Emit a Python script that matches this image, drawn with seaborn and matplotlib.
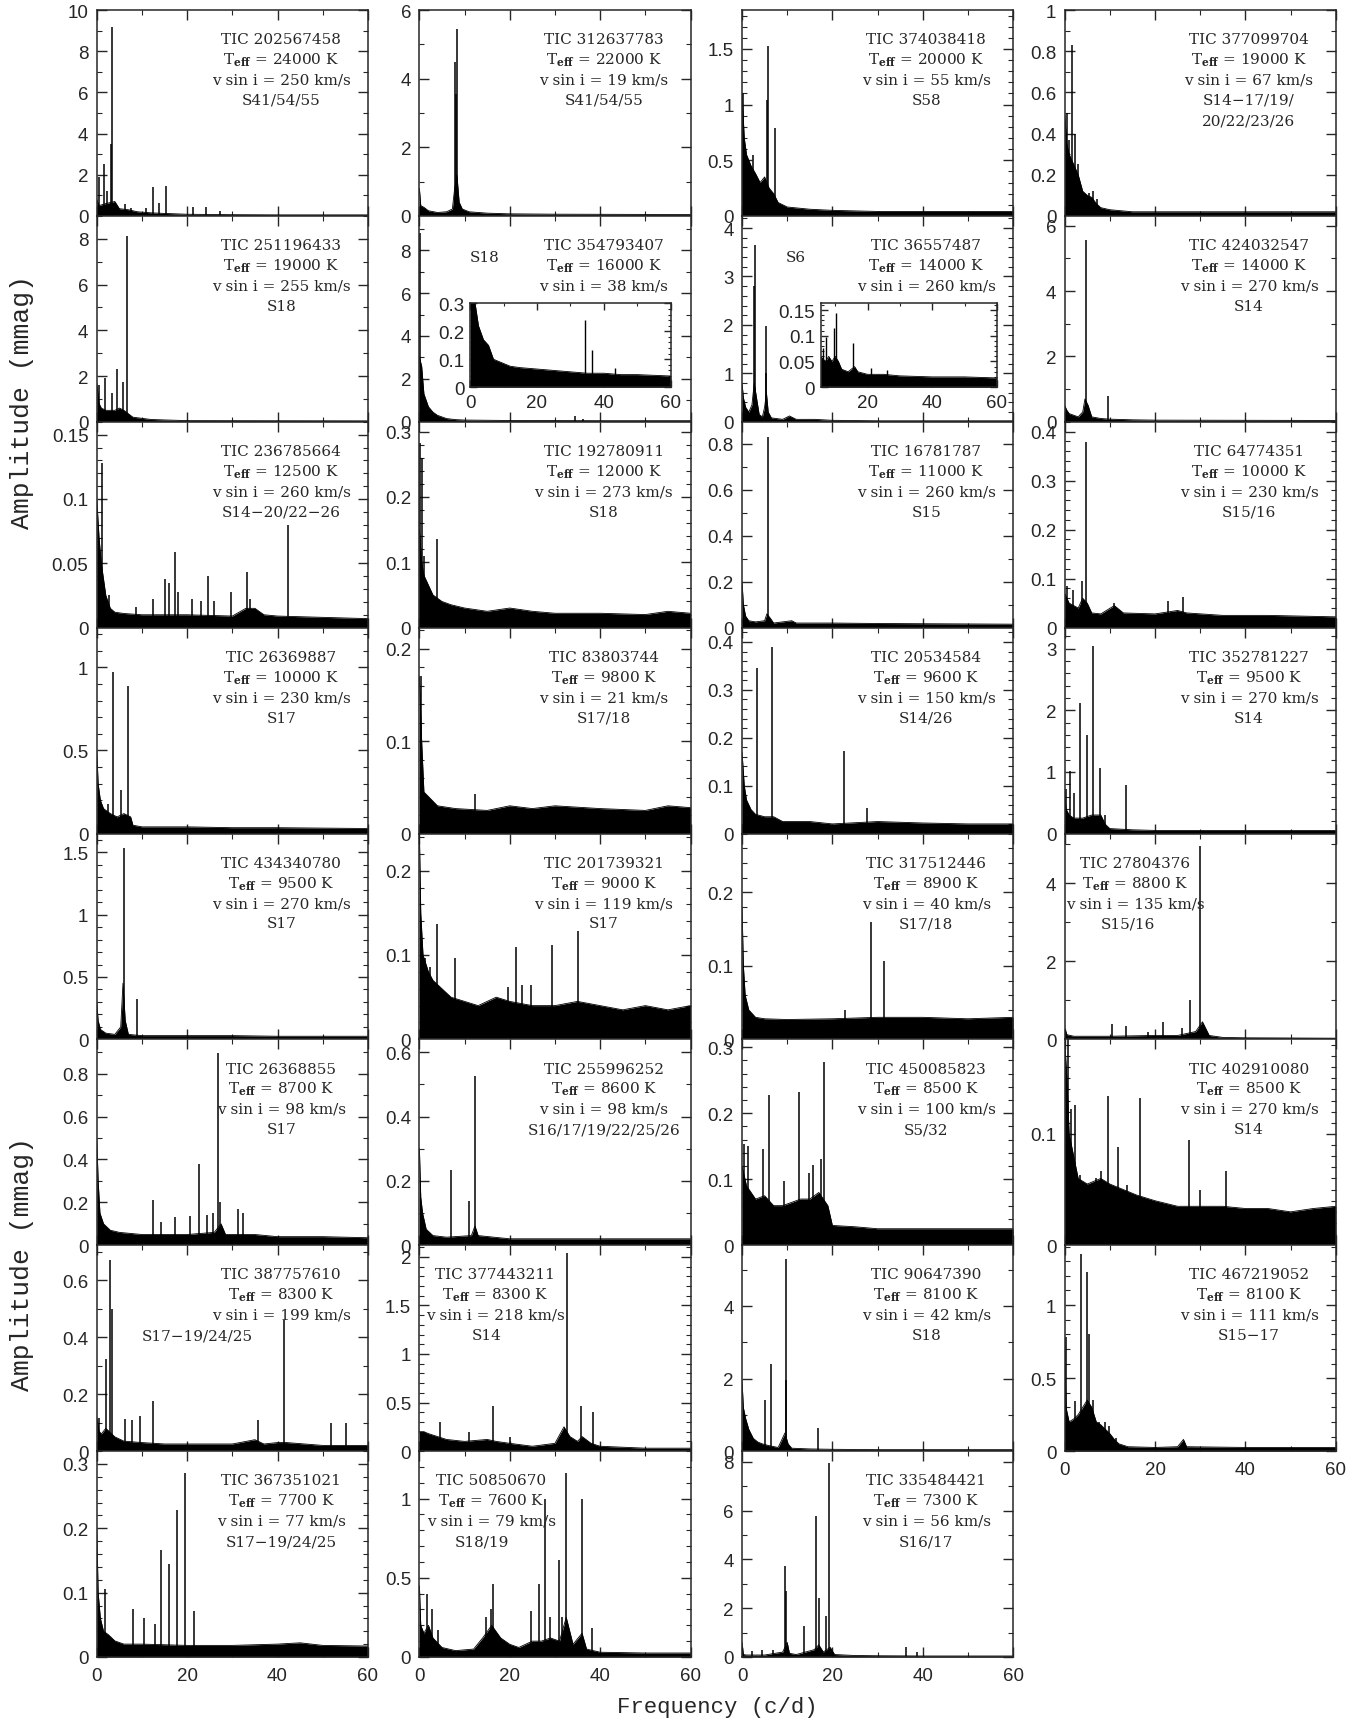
import matplotlib
matplotlib.use("Agg")
import matplotlib.pyplot as plt
from matplotlib.ticker import MultipleLocator, FuncFormatter
import seaborn as sns

# ---- star parameters (one entry per panel, row by row) ----
tic = ["202567458", "312637783", "374038418", "377099704",
       "251196433", "354793407", "36557487", "424032547",
       "236785664", "192780911", "16781787", "64774351",
       "26369887", "83803744", "20534584", "352781227",
       "434340780", "201739321", "317512446", "27804376",
       "26368855", "255996252", "450085823", "402910080",
       "387757610", "377443211", "90647390", "467219052",
       "367351021", "50850670", "335484421"]
teff = [24000, 22000, 20000, 19000, 19000, 16000, 14000, 14000,
        12500, 12000, 11000, 10000, 10000, 9800, 9600, 9500,
        9500, 9000, 8900, 8800, 8700, 8600, 8500, 8500,
        8300, 8300, 8100, 8100, 7700, 7600, 7300]
vsini = [250, 19, 55, 67, 255, 38, 260, 270, 260, 273, 260, 230, 230, 21, 150, 270,
         270, 119, 40, 135, 98, 98, 100, 270, 199, 218, 42, 111, 77, 79, 56]
sectors = ["S41/54/55", "S41/54/55", "S58", "S14\u221217/19/\n20/22/23/26",
           "S18", "S18", "S6", "S14",
           "S14\u221220/22\u221226", "S18", "S15", "S15/16",
           "S17", "S17/18", "S14/26", "S14",
           "S17", "S17", "S17/18", "S15/16",
           "S17", "S16/17/19/22/25/26", "S5/32", "S14",
           "S17\u221219/24/25", "S14", "S18", "S15\u221217",
           "S17\u221219/24/25", "S18/19", "S16/17"]

# y-axis top (mmag) and tick steps per panel
ytop = [10, 6, 1.85, 1.0, 9.0, 9.6, 4.25, 6.3,
        0.16, 0.315, 0.895, 0.42, 1.24, 0.223, 0.43, 3.34,
        1.65, 0.244, 0.28, 5.27, 0.96, 0.64, 0.312, 0.185,
        0.723, 2.12, 5.68, 1.41, 0.32, 1.30, 8.44]
ymajor = [2, 2, 0.5, 0.2, 2, 2, 1, 2, 0.05, 0.1, 0.2, 0.1, 0.5, 0.1, 0.1, 1,
          0.5, 0.1, 0.1, 2, 0.2, 0.2, 0.1, 0.1, 0.2, 0.5, 2, 0.5, 0.1, 0.5, 2]
yminor = [1, 1, 0.1, 0.1, 1, 1, 0.2, 1, 0.01, 0.02, 0.1, 0.02, 0.1, 0.02, 0.02, 0.2,
          0.1, 0.02, 0.02, 1, 0.1, 0.1, 0.02, 0.01, 0.1, 0.1, 1, 0.1, 0.02, 0.1, 1]

# ---- significant peaks: frequency (c/d) and amplitude (mmag) ----
peak_f = [
    [0.6, 1.7, 2.3, 3.1, 3.46, 6.3, 7.5, 10.8, 12.5, 13.7, 15.4, 21.2, 24.2, 27.3],
    [7.8, 8.1, 8.3],
    [0.2, 2.5, 5.5, 5.7, 7.3],
    [0.5, 0.9, 1.7, 2.3, 3.0, 5.5, 6.3, 7.2],
    [0.6, 1.9, 3.3, 4.4, 5.9, 6.7],
    [0.15, 34.5, 36.3],
    [2.6, 2.8, 5.2, 5.4],
    [4.8, 9.5],
    [1.15, 2.7, 8.6, 12.5, 15, 16, 17.3, 17.9, 21, 23, 24.6, 26, 29.6, 33.3, 34, 42.3],
    [0.2, 0.6, 1.0, 3.85],
    [5.8],
    [0.6, 1.9, 3.9, 4.8, 11, 22.8, 26.2],
    [2.5, 3.5, 5.4, 6.9],
    [0.4, 12.3],
    [3.3, 6.6, 22.6, 27.6],
    [0.4, 1.2, 2.1, 3.5, 5.0, 6.2, 7.9, 9, 13.5],
    [6.0, 9.0],
    [1.3, 2.3, 3.85, 7.9, 19.5, 21.3, 22.6, 24.8, 29.4, 35.2],
    [22.8, 28.6, 31.5],
    [10.5, 13.5, 18.5, 21.8, 26, 27.8, 30.0],
    [12.5, 14.2, 17.3, 20.6, 22.7, 24.4, 25.8, 26.9, 27.3, 31.3, 32.3],
    [7.1, 11.0, 12.3],
    [0.4, 1.35, 4.6, 6.0, 9.3, 12.7, 14.9, 15.6, 17.4, 18.1],
    [0.7, 1.5, 2.2, 3.3, 7.0, 8.1, 9.6, 11.8, 13.8, 16.6, 27.5, 29.9, 35.8],
    [0.6, 2.1, 2.9, 3.3, 6.2, 7.7, 9.6, 12.5, 35.6, 41.5, 51.9, 55.2],
    [1.0, 4.6, 11.0, 16.3, 20, 32.7, 35.7, 38.5],
    [5.0, 6.4, 9.7, 9.8, 16.8],
    [0.4, 2.4, 3.7, 5.0, 5.5, 6.3, 7.7, 8.9, 9.8, 11.4],
    [1.9, 8.1, 10.4, 12.9, 14.2, 16.0, 17.7, 19.6, 21.5],
    [1.7, 2.9, 4.2, 14.8, 15.8, 16.3, 24.6, 26.5, 27.7, 28.8, 30.8, 31.5, 32.5, 35.9, 38.2],
    [2.1, 4.4, 6.8, 9.6, 9.8, 13.7, 16.4, 17.0, 18.5, 19.3, 36.4, 38.8],
]
peak_a = [
    [1.9, 2.5, 1.2, 3.5, 9.2, 0.6, 0.4, 0.4, 1.4, 0.65, 1.46, 0.43, 0.43, 0.22],
    [4.5, 3.55, 5.45],
    [1.1, 0.55, 1.04, 1.53, 0.79],
    [0.5, 0.37, 0.83, 0.4, 0.25, 0.11, 0.12, 0.08],
    [1.6, 1.9, 1.24, 2.31, 1.72, 8.14],
    [8.8, 0.25, 0.13],
    [2.8, 3.65, 1.0, 1.97],
    [5.57, 0.8],
    [0.128, 0.025, 0.016, 0.022, 0.038, 0.035, 0.059, 0.028, 0.022, 0.021, 0.04, 0.021, 0.028, 0.043, 0.022, 0.08],
    [0.282, 0.26, 0.11, 0.135],
    [0.83],
    [0.084, 0.077, 0.095, 0.378, 0.05, 0.055, 0.063],
    [0.18, 0.97, 0.26, 0.89],
    [0.171, 0.043],
    [0.345, 0.39, 0.172, 0.053],
    [0.73, 1.02, 0.65, 2.11, 1.6, 3.05, 1.06, 0.3, 0.79],
    [1.53, 0.32],
    [0.097, 0.086, 0.137, 0.097, 0.062, 0.109, 0.065, 0.065, 0.112, 0.129],
    [0.04, 0.16, 0.106],
    [0.4, 0.35, 0.2, 0.45, 0.3, 1.0, 4.95],
    [0.21, 0.107, 0.13, 0.135, 0.377, 0.14, 0.148, 0.895, 0.2, 0.167, 0.15],
    [0.234, 0.137, 0.527],
    [0.153, 0.151, 0.146, 0.228, 0.098, 0.232, 0.11, 0.122, 0.13, 0.278],
    [0.185, 0.122, 0.126, 0.063, 0.06, 0.067, 0.134, 0.088, 0.054, 0.132, 0.095, 0.05, 0.067],
    [0.118, 0.323, 0.671, 0.5, 0.112, 0.11, 0.124, 0.177, 0.108, 0.46, 0.1, 0.1],
    [0.2, 0.3, 0.2, 0.46, 0.15, 2.04, 0.46, 0.4],
    [1.41, 2.39, 1.95, 5.3, 0.63],
    [0.78, 0.34, 1.35, 1.23, 0.8, 0.35, 0.2, 0.2, 0.17, 0.09],
    [0.105, 0.075, 0.06, 0.052, 0.167, 0.145, 0.229, 0.286, 0.072],
    [0.4, 0.3, 0.17, 0.25, 0.3, 0.46, 0.29, 0.46, 1.0, 0.25, 0.615, 0.25, 1.16, 1.0, 0.18],
    [0.25, 0.3, 0.3, 3.74, 2.7, 1.25, 5.77, 2.4, 1.7, 7.96, 0.39, 0.22],
]

# ---- upper edge of the noise background, read at a few frequencies ----
noise_f = [
    [0, 0.5, 2, 4, 5, 7, 9, 12, 15, 20, 30, 40, 60],
    [0, 0.3, 1, 2, 4, 6, 7.3, 7.8, 8.3, 8.8, 9.5, 11, 15, 20, 30, 60],
    [0, 0.5, 1, 2, 3, 4, 5, 6, 7, 8, 10, 15, 20, 30, 40, 60],
    [0, 0.5, 1, 2, 3, 4, 5, 6, 7, 8, 10, 15, 20, 60],
    [0, 0.5, 1, 2, 3, 4, 5, 6, 7, 8, 10, 12, 15, 20, 60],
    [0, 0.5, 1, 2, 3, 4, 6, 8, 10, 20, 40, 60],
    [0, 0.3, 0.8, 1.5, 2.2, 2.7, 3.2, 3.8, 4.5, 5, 5.4, 5.8, 6.5, 9, 10.5, 12, 16, 20, 30, 60],
    [0, 0.5, 1, 2, 3, 4, 4.5, 5.2, 6, 8, 10, 15, 20, 60],
    [0, 0.5, 1, 2, 3, 4, 6, 10, 20, 30, 33, 35, 37, 40, 50, 60],
    [0, 0.5, 1, 2, 3, 4, 5, 7, 10, 15, 20, 25, 30, 40, 50, 55, 60],
    [0, 0.3, 0.8, 1.5, 3, 5, 5.5, 6.3, 7, 11, 12, 20, 30, 40, 60],
    [0, 1, 2, 3, 4, 5, 6, 8, 11, 13, 20, 25, 27, 35, 45, 60],
    [0, 0.3, 0.8, 1.5, 3, 4.5, 6, 7.5, 8, 10, 20, 30, 40, 60],
    [0, 0.5, 1, 2, 4, 8, 15, 20, 25, 30, 40, 50, 55, 60],
    [0, 0.5, 1, 2, 3, 5, 7, 9, 15, 20, 30, 40, 50, 60],
    [0, 0.3, 1, 2, 4, 6, 8, 9, 10, 15, 20, 40, 60],
    [0, 0.3, 0.8, 2, 4, 5.3, 5.8, 6.3, 7, 10, 20, 30, 40, 60],
    [0, 0.3, 0.8, 2, 3, 5, 7, 10, 13, 17, 20, 25, 30, 35, 40, 45, 50, 55, 60],
    [0, 0.3, 0.7, 1.5, 3, 5, 10, 20, 30, 40, 50, 60],
    [0, 0.5, 2, 10, 20, 25, 29, 30.5, 32, 35, 40, 60],
    [0, 0.3, 0.7, 1.5, 3, 5, 10, 20, 26, 27.5, 28.5, 35, 40, 50, 60],
    [0, 0.3, 0.7, 1.5, 3, 6, 11.5, 12.3, 13, 20, 30, 40, 60],
    [0, 1, 2, 3, 5, 7, 9, 11, 13, 15, 17, 19, 20, 25, 30, 40, 50, 60],
    [0, 0.5, 1, 2, 3, 5, 8, 10, 13, 16, 20, 25, 30, 35, 40, 45, 50, 55, 60],
    [0, 0.5, 1, 2, 4, 6, 10, 15, 20, 30, 35, 37, 40, 42, 50, 60],
    [0, 1, 2, 4, 6, 10, 15, 17, 20, 25, 30, 32, 33.3, 35, 36, 38, 40, 50, 60],
    [0, 0.3, 0.8, 1.5, 2.5, 3.5, 4.5, 6, 8, 9.5, 10.2, 11, 15, 20, 30, 40, 60],
    [0, 0.3, 1, 2, 3, 4, 5, 6, 7, 8, 9, 10, 11, 12, 14, 20, 25, 26.3, 27, 40, 60],
    [0, 0.3, 0.8, 1.5, 2.5, 4, 6, 10, 20, 30, 40, 45, 50, 60],
    [0, 0.3, 1, 2, 3, 5, 8, 12, 14, 16, 18, 20, 22, 25, 27, 29, 31, 32.5, 34, 36, 37, 40, 50, 60],
    [0, 0.3, 1, 5, 9, 10, 10.5, 12, 16, 17, 18, 19.5, 20.5, 25, 30, 40, 60],
]
noise_a = [
    [0.8, 0.5, 0.6, 0.7, 0.35, 0.3, 0.2, 0.15, 0.12, 0.08, 0.06, 0.05, 0.05],
    [0.8, 0.3, 0.25, 0.15, 0.1, 0.12, 0.2, 0.8, 1.2, 0.4, 0.2, 0.12, 0.08, 0.06, 0.05, 0.04],
    [1.1, 0.7, 0.55, 0.45, 0.38, 0.3, 0.35, 0.25, 0.2, 0.12, 0.08, 0.06, 0.05, 0.04, 0.04, 0.04],
    [0.5, 0.35, 0.3, 0.25, 0.2, 0.12, 0.1, 0.09, 0.06, 0.04, 0.03, 0.02, 0.02, 0.02],
    [1.7, 0.8, 0.6, 0.5, 0.5, 0.5, 0.6, 0.5, 0.35, 0.2, 0.15, 0.1, 0.08, 0.05, 0.04],
    [3.0, 2.6, 1.3, 0.7, 0.45, 0.3, 0.15, 0.1, 0.08, 0.06, 0.05, 0.05],
    [0.8, 0.5, 0.3, 0.2, 0.35, 0.8, 0.5, 0.15, 0.1, 0.3, 0.6, 0.2, 0.08, 0.05, 0.12, 0.05, 0.05, 0.03, 0.02, 0.02],
    [0.5, 0.35, 0.25, 0.2, 0.15, 0.3, 0.7, 0.5, 0.15, 0.1, 0.08, 0.06, 0.05, 0.04],
    [0.1, 0.07, 0.05, 0.025, 0.015, 0.012, 0.011, 0.01, 0.01, 0.009, 0.015, 0.015, 0.01, 0.009, 0.008, 0.007],
    [0.15, 0.1, 0.08, 0.065, 0.05, 0.045, 0.04, 0.035, 0.03, 0.025, 0.03, 0.025, 0.022, 0.022, 0.02, 0.025, 0.022],
    [0.2, 0.1, 0.05, 0.03, 0.025, 0.03, 0.06, 0.04, 0.02, 0.03, 0.02, 0.02, 0.018, 0.017, 0.015],
    [0.07, 0.05, 0.045, 0.04, 0.06, 0.05, 0.03, 0.028, 0.045, 0.03, 0.028, 0.035, 0.03, 0.025, 0.025, 0.022],
    [0.5, 0.3, 0.2, 0.15, 0.12, 0.1, 0.12, 0.1, 0.05, 0.04, 0.04, 0.035, 0.035, 0.03],
    [0.17, 0.1, 0.045, 0.04, 0.03, 0.027, 0.025, 0.03, 0.027, 0.03, 0.027, 0.025, 0.03, 0.028],
    [0.17, 0.1, 0.07, 0.05, 0.04, 0.035, 0.035, 0.025, 0.025, 0.02, 0.025, 0.022, 0.02, 0.02],
    [0.7, 0.4, 0.3, 0.25, 0.25, 0.3, 0.3, 0.15, 0.08, 0.06, 0.05, 0.05, 0.05],
    [0.3, 0.15, 0.08, 0.05, 0.04, 0.1, 0.45, 0.15, 0.04, 0.03, 0.03, 0.03, 0.025, 0.025],
    [0.244, 0.15, 0.1, 0.08, 0.07, 0.06, 0.05, 0.045, 0.04, 0.05, 0.045, 0.04, 0.04, 0.045, 0.04, 0.035, 0.04, 0.035, 0.04],
    [0.18, 0.1, 0.06, 0.04, 0.03, 0.028, 0.027, 0.028, 0.03, 0.03, 0.028, 0.03],
    [0.3, 0.12, 0.08, 0.08, 0.1, 0.1, 0.2, 0.45, 0.1, 0.05, 0.04, 0.03],
    [0.5, 0.3, 0.15, 0.1, 0.07, 0.06, 0.05, 0.05, 0.06, 0.1, 0.05, 0.05, 0.04, 0.04, 0.035],
    [0.3, 0.15, 0.1, 0.05, 0.03, 0.025, 0.03, 0.06, 0.03, 0.02, 0.02, 0.02, 0.02],
    [0.12, 0.09, 0.08, 0.07, 0.075, 0.06, 0.06, 0.065, 0.07, 0.07, 0.08, 0.06, 0.03, 0.028, 0.025, 0.025, 0.025, 0.025],
    [0.185, 0.15, 0.1, 0.08, 0.06, 0.055, 0.06, 0.055, 0.05, 0.045, 0.04, 0.035, 0.035, 0.035, 0.033, 0.033, 0.03, 0.033, 0.035],
    [0.12, 0.07, 0.06, 0.08, 0.05, 0.035, 0.03, 0.025, 0.025, 0.025, 0.04, 0.025, 0.03, 0.03, 0.02, 0.02],
    [0.2, 0.2, 0.18, 0.15, 0.12, 0.1, 0.12, 0.1, 0.08, 0.05, 0.08, 0.25, 0.15, 0.1, 0.15, 0.08, 0.05, 0.03, 0.03],
    [1.95, 1.2, 0.9, 0.6, 0.35, 0.25, 0.2, 0.15, 0.1, 0.5, 0.2, 0.08, 0.06, 0.05, 0.04, 0.04, 0.04],
    [0.78, 0.3, 0.2, 0.22, 0.25, 0.3, 0.35, 0.3, 0.2, 0.18, 0.15, 0.12, 0.08, 0.05, 0.03, 0.025, 0.03, 0.08, 0.03, 0.025, 0.025],
    [0.2, 0.1, 0.06, 0.04, 0.035, 0.025, 0.02, 0.02, 0.018, 0.018, 0.02, 0.022, 0.018, 0.017],
    [0.45, 0.2, 0.15, 0.2, 0.12, 0.06, 0.04, 0.05, 0.12, 0.2, 0.12, 0.08, 0.06, 0.1, 0.1, 0.12, 0.1, 0.25, 0.08, 0.15, 0.05, 0.03, 0.025, 0.025],
    [0.6, 0.1, 0.08, 0.08, 0.2, 0.6, 0.15, 0.1, 0.3, 0.5, 0.2, 0.4, 0.1, 0.06, 0.05, 0.04, 0.04],
]

# ---- zoomed insets for TIC 354793407 and TIC 36557487 ----
inset1_peak_f = [34.5, 36.4, 43.4]
inset1_peak_a = [0.242, 0.133, 0.07]
inset1_noise_f = [0, 1.5, 2.5, 4, 5.5, 7, 9, 12, 15, 20, 25, 30, 35, 40, 45, 50, 60]
inset1_noise_a = [0.3, 0.3, 0.22, 0.17, 0.15, 0.1, 0.09, 0.075, 0.07, 0.065, 0.06, 0.055, 0.05, 0.05, 0.045, 0.045, 0.04]
inset2_peak_f = [6.3, 7.3, 9.7, 10.1, 15.5, 21, 26]
inset2_peak_a = [0.077, 0.097, 0.115, 0.145, 0.085, 0.037, 0.033]
inset2_noise_f = [5.5, 7, 8, 9, 10, 11, 12, 14, 16, 17, 20, 25, 30, 40, 50, 60]
inset2_noise_a = [0.06, 0.05, 0.06, 0.05, 0.06, 0.05, 0.035, 0.03, 0.04, 0.03, 0.025, 0.025, 0.022, 0.02, 0.02, 0.018]

sns.set_style("ticks")
plt.rcParams["font.family"] = ["Liberation Sans", "DejaVu Sans"]
plt.rcParams["mathtext.fontset"] = "dejavuserif"
plt.rcParams["axes.linewidth"] = 1.1

fmt = FuncFormatter(lambda v, p: f"{v:g}")


def draw_spectrum(ax, pf, pa, nf, na, lw=1.1):
    ax.fill_between(nf, 0, na, color="black", lw=0)
    sns.lineplot(x=nf, y=na, ax=ax, color="black", lw=0.6, estimator=None, sort=False)
    ax.vlines(pf, 0, pa, color="black", lw=lw)


def style_axis(ax, xlo, ymax, maj, mnr, xlabels, size=13.5):
    ax.set_xlim(xlo, 60)
    ax.set_ylim(0, ymax)
    ax.xaxis.set_major_locator(MultipleLocator(20))
    ax.xaxis.set_minor_locator(MultipleLocator(10))
    ax.yaxis.set_major_locator(MultipleLocator(maj))
    ax.yaxis.set_minor_locator(MultipleLocator(mnr))
    ax.yaxis.set_major_formatter(fmt)
    ax.xaxis.set_major_formatter(fmt)
    ax.tick_params(which="both", direction="in", top=True, right=True, labelsize=size)
    ax.tick_params(which="major", length=7, width=1)
    ax.tick_params(which="minor", length=3.5, width=0.8)
    ax.tick_params(axis="x", labelbottom=xlabels, pad=7)
    ax.tick_params(axis="y", pad=6)
    ax.set_xlabel("")
    ax.set_ylabel("")


fig = plt.figure(figsize=(13.63, 17.24), dpi=100)
gs = fig.add_gridspec(8, 4, left=0.071, right=0.98, top=0.9936, bottom=0.0383,
                      hspace=0, wspace=0.19)

line_y = [0.858, 0.76, 0.662, 0.563, 0.465]
txt_kw = dict(ha="center", va="center", fontsize=11, family="DejaVu Serif")

for i in range(len(tic)):
    r, c = divmod(i, 4)
    ax = fig.add_subplot(gs[r, c])
    draw_spectrum(ax, peak_f[i], peak_a[i], noise_f[i], noise_a[i])
    xlab = (r == 7) or (r == 6 and c == 3)
    style_axis(ax, 0, ytop[i], ymajor[i], yminor[i], xlab)

    # text block: centre position of the labels
    cx = {19: 0.26, 25: 0.28, 29: 0.265}.get(i, 0.68)
    ax.text(cx, line_y[0], f"TIC {tic[i]}", transform=ax.transAxes, **txt_kw)
    ax.text(cx, line_y[1], r"T$_{\mathbf{eff}}$ = " + f"{teff[i]} K",
            transform=ax.transAxes, **txt_kw)
    ax.text(cx, line_y[2], f"v sin i = {vsini[i]} km/s", transform=ax.transAxes, **txt_kw)

    if i in (5, 6):
        sx, sy = {5: (0.24, 0.80), 6: (0.2, 0.80)}[i]
        ax.text(sx, sy, sectors[i], transform=ax.transAxes, **txt_kw)
    else:
        sx = {19: 0.235, 24: 0.37, 25: 0.25, 29: 0.23}.get(i, cx)
        for k, part in enumerate(sectors[i].split("\n")):
            ax.text(sx, line_y[3 + k], part, transform=ax.transAxes, **txt_kw)

    if i == 5:
        ins = ax.inset_axes([0.187, 0.168, 0.74, 0.407])
        draw_spectrum(ins, inset1_peak_f, inset1_peak_a, inset1_noise_f, inset1_noise_a, lw=1.0)
        style_axis(ins, 0, 0.3, 0.1, 0.02, True)
        ins.tick_params(which="major", length=5)
        ins.tick_params(which="minor", length=2.5)
        ins.tick_params(axis="x", pad=5)
        ins.tick_params(axis="y", pad=4)
    if i == 6:
        ins = ax.inset_axes([0.29, 0.168, 0.65, 0.407])
        draw_spectrum(ins, inset2_peak_f, inset2_peak_a, inset2_noise_f, inset2_noise_a, lw=1.0)
        style_axis(ins, 5.5, 0.163, 0.05, 0.01, True)
        ins.tick_params(which="major", length=5)
        ins.tick_params(which="minor", length=2.5)
        ins.tick_params(axis="x", pad=5)
        ins.tick_params(axis="y", pad=4)

fig.text(0.016, 0.767, "Amplitude (mmag)", rotation=90, ha="center", va="center",
         fontsize=19, family="Liberation Mono")
fig.text(0.016, 0.267, "Amplitude (mmag)", rotation=90, ha="center", va="center",
         fontsize=19, family="Liberation Mono")
fig.text(0.526, 0.0095, "Frequency (c/d)", ha="center", va="center",
         fontsize=16, family="Liberation Mono")

fig.savefig("out.png", dpi=100)
